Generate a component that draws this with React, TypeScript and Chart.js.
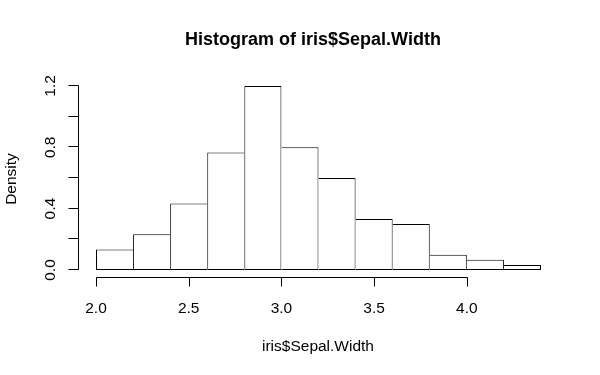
import React, { useEffect, useRef } from "react";
import { Chart, registerables } from "chart.js";

Chart.register(...registerables);

const breaks = [2.0, 2.2, 2.4, 2.6, 2.8, 3.0, 3.2, 3.4, 3.6, 3.8, 4.0, 4.2, 4.4];
const densities = [0.1333, 0.2333, 0.4333, 0.7667, 1.2, 0.8, 0.6, 0.3333, 0.3, 0.1, 0.0667, 0.0333];
const xTicks = [2.0, 2.5, 3.0, 3.5, 4.0];
const xTickLabels = ["2.0", "2.5", "3.0", "3.5", "4.0"];
const yTicks = [0, 0.2, 0.4, 0.6, 0.8, 1.0, 1.2];
const yLabelTicks = [0, 0.4, 0.8, 1.2];
const yTickLabels = ["0.0", "0.4", "0.8", "1.2"];
const titleText = "Histogram of iris$Sepal.Width";
const xTitle = "iris$Sepal.Width";
const yTitle = "Density";

const FONT = '"Liberation Sans", Arial, Helvetica, sans-serif';

const rAxesPlugin = {
  id: "rAxes",
  afterDraw(chart: any) {
    const ctx = chart.ctx as CanvasRenderingContext2D;
    const xs = chart.scales.x;
    const ys = chart.scales.y;
    ctx.save();
    ctx.strokeStyle = "#000";
    ctx.fillStyle = "#000";
    ctx.lineWidth = 1;

    // x axis
    const axY = 277.5;
    const x0 = Math.round(xs.getPixelForValue(xTicks[0])) + 0.5;
    const x1 = Math.round(xs.getPixelForValue(xTicks[xTicks.length - 1])) + 0.5;
    ctx.beginPath();
    ctx.moveTo(x0, axY);
    ctx.lineTo(x1, axY);
    xTicks.forEach((v) => {
      const px = Math.round(xs.getPixelForValue(v)) + 0.5;
      ctx.moveTo(px, axY);
      ctx.lineTo(px, axY + 9);
    });
    ctx.stroke();
    ctx.font = `15.5px ${FONT}`;
    ctx.textAlign = "center";
    ctx.textBaseline = "alphabetic";
    xTicks.forEach((v, i) => {
      ctx.fillText(xTickLabels[i], xs.getPixelForValue(v), 313);
    });

    // y axis
    const axX = 78.5;
    const yTop = Math.round(ys.getPixelForValue(yTicks[yTicks.length - 1])) - 0.5;
    const yBot = Math.round(ys.getPixelForValue(yTicks[0])) - 0.5;
    ctx.beginPath();
    ctx.moveTo(axX, yBot);
    ctx.lineTo(axX, yTop);
    yTicks.forEach((v) => {
      const py = Math.round(ys.getPixelForValue(v)) - 0.5;
      ctx.moveTo(axX, py);
      ctx.lineTo(axX - 10, py);
    });
    ctx.stroke();
    yLabelTicks.forEach((v, i) => {
      const py = ys.getPixelForValue(v);
      ctx.save();
      ctx.translate(55, py);
      ctx.rotate(-Math.PI / 2);
      ctx.textAlign = "center";
      ctx.textBaseline = "alphabetic";
      ctx.fillText(yTickLabels[i], 0, 0);
      ctx.restore();
    });

    // axis titles
    ctx.textAlign = "center";
    ctx.fillText(xTitle, 318, 351);
    ctx.save();
    ctx.translate(16, 179);
    ctx.rotate(-Math.PI / 2);
    ctx.fillText(yTitle, 0, 0);
    ctx.restore();

    // main title
    ctx.font = `bold 18px ${FONT}`;
    ctx.fillText(titleText, 313, 44.5);
    ctx.restore();
  },
};

export default function App() {
  const ref = useRef<HTMLCanvasElement | null>(null);
  useEffect(() => {
    document.body.style.margin = "0";
    const canvas = ref.current!;
    const data = densities.map((d, i) => ({ x: (breaks[i] + breaks[i + 1]) / 2, y: d }));
    const last = densities.length - 1;
    const chart = new Chart(canvas, {
      type: "bar",
      data: {
        datasets: [
          {
            data: data as any,
            backgroundColor: "#ffffff",
            borderColor: "#000000",
            borderSkipped: false,
            inflateAmount: 0,
            categoryPercentage: 1,
            barPercentage: 1,
            borderWidth: (c: any) => {
              const i = c.dataIndex;
              const h = densities[i];
              return {
                top: 1,
                bottom: 1,
                left: i === 0 || densities[i - 1] < h ? 1 : 0,
                right: i === last || densities[i + 1] <= h ? 1 : 0,
              };
            },
          } as any,
        ],
      },
      options: {
        responsive: false,
        animation: false,
        devicePixelRatio: 1,
        layout: { padding: { left: 96, right: 59, top: 86, bottom: 105 } },
        scales: {
          x: { type: "linear", offset: false, min: breaks[0], max: breaks[breaks.length - 1], display: false },
          y: { type: "linear", min: 0, max: 1.2, display: false },
        },
        plugins: { legend: { display: false }, tooltip: { enabled: false }, title: { display: false } },
      },
      plugins: [rAxesPlugin],
    });
    return () => chart.destroy();
  }, []);
  return (
    <div style={{ position: "fixed", left: 0, top: 0, width: 600, height: 375, background: "#fff" }}>
      <canvas ref={ref} width={600} height={375} style={{ width: 600, height: 375, display: "block" }} />
    </div>
  );
}
